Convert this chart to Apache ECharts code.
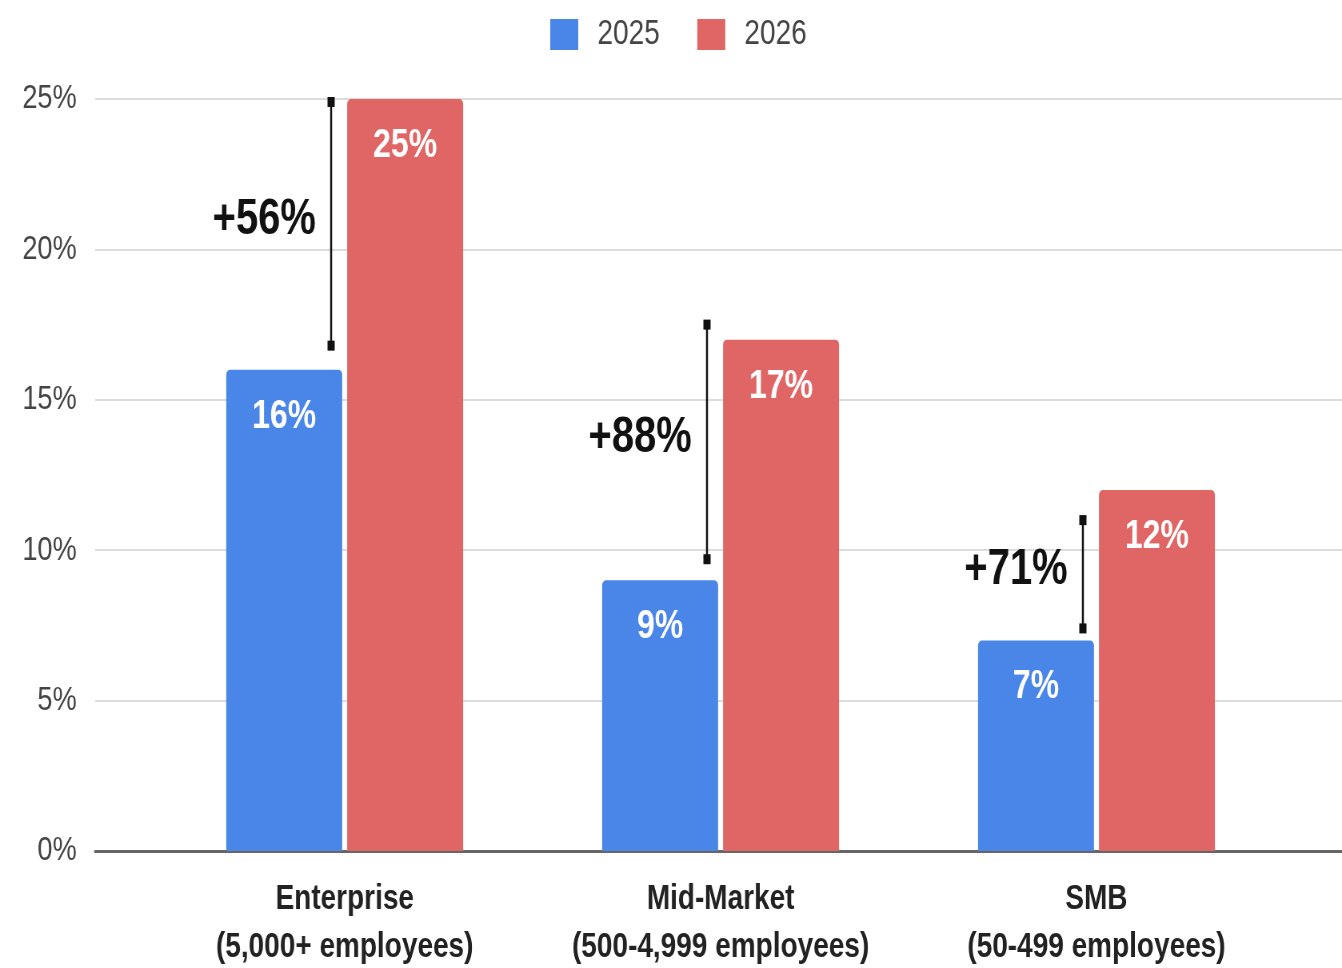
<!DOCTYPE html>
<html>
<head>
<meta charset="utf-8">
<script src="https://cdn.jsdelivr.net/npm/echarts@6/dist/echarts.min.js"></script>
<style>
html,body{margin:0;padding:0;background:#fff;overflow:hidden;}
#wrap{width:1342px;height:968px;overflow:hidden;}
#chart{width:1678px;height:968px;transform:scaleX(0.79976);transform-origin:0 0;}
</style>
</head>
<body>
<div id="wrap"><div id="chart"></div></div>
<script>
var categories = ['Enterprise\n(5,000+ employees)', 'Mid-Market\n(500-4,999 employees)', 'SMB\n(50-499 employees)'];
var seriesNames = ['2025', '2026'];
var values2025 = [16, 9, 7];
var values2026 = [25, 17, 12];
var deltaLabels = ['+56%', '+88%', '+71%'];
var bracketLow = [16.8, 9.7, 7.4];
var bracketHigh = [24.9, 17.5, 11.0];
var yTicks = [0, 5, 10, 15, 20, 25];

var FONT = '"Liberation Sans", Arial, sans-serif';
var BLUE = '#4a86e8', RED = '#e06666';

var bracketData = categories.map(function (c, i) { return [i, bracketLow[i], bracketHigh[i]]; });

var chart = echarts.init(document.getElementById('chart'), null, {renderer: 'canvas'});
chart.setOption({
  animation: false,
  backgroundColor: '#ffffff',
  textStyle: {fontFamily: FONT},
  legend: {
    data: seriesNames,
    top: 17,
    left: 688,
    padding: 0,
    icon: 'rect',
    itemWidth: 35,
    itemHeight: 31,
    itemGap: 47,
    textStyle: {fontSize: 35, color: '#444', fontFamily: FONT, padding: [0, 0, 0, 19]}
  },
  grid: [
    {left: 119, right: 0, top: 99, bottom: 117, containLabel: false, outerBoundsMode: 'none'},
    {left: 196, width: 1410, top: 99, bottom: 117, containLabel: false, outerBoundsMode: 'none'}
  ],
  xAxis: [
    {gridIndex: 0, type: 'value', min: 0, max: 1, show: true,
     axisLine: {show: true, lineStyle: {color: '#666', width: 3}},
     axisTick: {show: false}, axisLabel: {show: false}, splitLine: {show: false}},
    {gridIndex: 1, type: 'category', data: categories,
     axisLine: {show: false}, axisTick: {show: false},
     axisLabel: {fontSize: 35, fontWeight: 'bold', color: '#222', fontFamily: FONT, lineHeight: 48, margin: 24, interval: 0}}
  ],
  yAxis: [
    {gridIndex: 0, type: 'value', min: yTicks[0], max: yTicks[yTicks.length - 1], interval: 5,
     axisLine: {show: false}, axisTick: {show: false},
     axisLabel: {formatter: '{value}%', fontSize: 34, color: '#444', fontFamily: FONT, margin: 23},
     splitLine: {show: true, lineStyle: {color: '#dcdcdc', width: 2}}},
    {gridIndex: 1, type: 'value', min: yTicks[0], max: yTicks[yTicks.length - 1], interval: 5, show: false,
     splitLine: {show: false}}
  ],
  series: [
    {name: seriesNames[0], type: 'bar', xAxisIndex: 1, yAxisIndex: 1, data: values2025,
     barWidth: 145, barGap: '4.3%',
     itemStyle: {color: BLUE, borderRadius: [5, 5, 0, 0]},
     label: {show: true, position: 'insideTop', distance: 27, formatter: '{c}%', color: '#fff',
             fontSize: 40, fontWeight: 'bold', fontFamily: FONT}},
    {name: seriesNames[1], type: 'bar', xAxisIndex: 1, yAxisIndex: 1, data: values2026,
     barWidth: 145, barGap: '4.3%',
     itemStyle: {color: RED, borderRadius: [5, 5, 0, 0]},
     label: {show: true, position: 'insideTop', distance: 27, formatter: '{c}%', color: '#fff',
             fontSize: 40, fontWeight: 'bold', fontFamily: FONT}},
    {type: 'custom', xAxisIndex: 1, yAxisIndex: 1, data: bracketData, z: 10,
     encode: {x: 0, y: [1, 2]},
     renderItem: function (params, api) {
       var i = api.value(0);
       var top = api.coord([i, api.value(2)]);
       var bot = api.coord([i, api.value(1)]);
       var x = top[0] - 17;
       var label = deltaLabels[params.dataIndex];
       return {
         type: 'group',
         children: [
           {type: 'line', shape: {x1: x, y1: top[1], x2: x, y2: bot[1]}, style: {stroke: '#111', lineWidth: 2.5}},
           {type: 'rect', shape: {x: x - 4.5, y: top[1] - 5, width: 9, height: 10}, style: {fill: '#111'}},
           {type: 'rect', shape: {x: x - 4.5, y: bot[1] - 5, width: 9, height: 10}, style: {fill: '#111'}},
           {type: 'text', style: {text: label, x: x - 19, y: (top[1] + bot[1]) / 2 - 4,
             align: 'right', verticalAlign: 'middle',
             font: 'bold 50px ' + FONT, fill: '#111'}}
         ]
       };
     }}
  ]
});
</script>
</body>
</html>
